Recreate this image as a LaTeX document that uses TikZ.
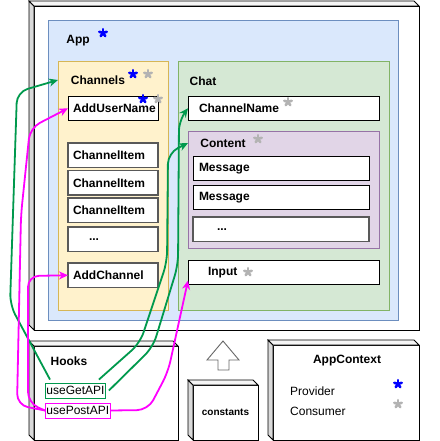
\documentclass[tikz,border=0pt]{standalone}
\usepackage{fontspec}
\setmainfont{Liberation Sans}
\usetikzlibrary{calc,arrows.meta}
\definecolor{appfill}{HTML}{DAE8FC}
\definecolor{appline}{HTML}{6C8EBF}
\definecolor{chanfill}{HTML}{FFF2CC}
\definecolor{chanline}{HTML}{D6B656}
\definecolor{chatfill}{HTML}{D5E8D4}
\definecolor{chatline}{HTML}{82B366}
\definecolor{contfill}{HTML}{E1D5E7}
\definecolor{contline}{HTML}{9673A6}
\definecolor{getgreen}{HTML}{00994D}
\definecolor{postpink}{HTML}{FF00FF}
\definecolor{provblue}{HTML}{0000FF}
\definecolor{consgray}{HTML}{B3B3B3}
\tikzset{
  frame/.style={draw, fill=white, anchor=north west, inner sep=0pt, outer sep=0pt, line width=0.8pt},
  area/.style={frame, line width=0.9pt},
  item/.style={frame, minimum height=24.5pt, align=left, inner xsep=5pt,
    font=\bfseries\fontsize{12}{14}\selectfont},
  listitem/.style={item, draw=black!65, line width=1.2pt},
  hook/.style={draw, anchor=west, inner sep=1pt, minimum height=15pt, line width=0.9pt,
    font=\fontsize{12}{14}\selectfont},
  lbl/.style={inner sep=0pt, font=\bfseries\fontsize{12}{14}\selectfont},
  txt/.style={inner sep=0pt, anchor=west, font=\fontsize{12}{14}\selectfont},
  ast/.pic={\foreach \a in {270,342,54,126,198}
    \draw[line width=2.6pt, line cap=round, pic actions] (0,0) -- (\a:3.9);},
  getline/.style={getgreen, line width=1.8pt, rounded corners=11pt, -{Stealth[length=9pt,width=8pt]}},
  postline/.style={postpink, line width=1.8pt, rounded corners=11pt, -{Stealth[length=9pt,width=8pt]}}
}
% left and top faces of a 3D box
\newcommand{\cubeside}[1]{%
  \filldraw[fill=black!15, line width=0.8pt] (#1.north west) -- ++(-5,-5)
    -- ($(#1.south west)+(-5,-5)$) -- (#1.south west) -- cycle;
  \filldraw[fill=black!4, line width=0.8pt] (#1.north west) -- ++(-5,-5)
    -- ($(#1.north east)+(-5,-5)$) -- (#1.north east) -- cycle;}
\begin{document}
\begin{tikzpicture}[x=1pt, y=-1pt]
\useasboundingbox (0,0) rectangle (439,441);
% 3D boxes
\node[frame, minimum width=385pt, minimum height=324pt] (frame) at (34,6) {};
\cubeside{frame}
\node[frame, minimum width=144pt, minimum height=94pt] (hooks) at (34,346) {};
\cubeside{hooks}
\node[frame, minimum width=65pt, minimum height=55pt,
  font=\bfseries\fontsize{10}{12}\selectfont] (constants) at (193,385) {constants};
\cubeside{constants}
\node[frame, minimum width=146pt, minimum height=95pt] (appcontext) at (273,345) {};
\cubeside{appcontext}
% up arrow
\draw[draw=black!60, fill=white, line width=0.9pt] (223,341) -- (239,360) -- (229,360)
  -- (229,370) -- (218,370) -- (218,360) -- (207,360) -- cycle;
% App
\node[area, fill=appfill, draw=appline, minimum width=350pt, minimum height=300pt] (app) at (48,20) {};
\node[lbl] (applbl) at (78,41) {App};
% Channels
\node[area, fill=chanfill, draw=chanline, minimum width=110pt, minimum height=249pt] (channels) at (58,61) {};
\node[lbl] (chanlbl) at (98,80) {Channels};
\node[item, text width=80pt] (addusername) at (68,96) {AddUserName};
\node[listitem, text width=80pt] (item1) at (68,143) {ChannelItem};
\node[listitem, text width=80pt] (item2) at (68,170.5) {ChannelItem};
\node[listitem, text width=80pt] (item3) at (68,198) {ChannelItem};
\node[listitem, text width=48pt, inner xsep=21pt] (dots1) at (68,227) {...};
\node[listitem, text width=80pt] (addchannel) at (68,263) {AddChannel};
% Chat
\node[area, fill=chatfill, draw=chatline, minimum width=211pt, minimum height=249pt] (chat) at (178,61) {};
\node[lbl] (chatlbl) at (203,81) {Chat};
\node[item, text width=169pt, inner xsep=11pt] (channelname) at (188,96) {ChannelName};
\node[area, fill=contfill, draw=contline, minimum width=191pt, minimum height=117pt] (content) at (188,131) {};
\node[lbl] (contlbl) at (223,143) {Content};
\node[item, text width=164pt, inner xsep=6pt] (msg1) at (193,156) {Message};
\node[item, text width=164pt, inner xsep=6pt] (msg2) at (193,185) {Message};
\node[listitem, text width=128pt, inner xsep=24pt] (dots2) at (193,217) {...};
\node[item, text width=151pt, inner xsep=20pt] (input) at (188,260) {Input};
% Hooks
\node[lbl] (hookslbl) at (69,361) {Hooks};
\node[hook, draw=getgreen] (getapi) at (45,390.5) {useGetAPI};
\node[hook, draw=postpink] (postapi) at (45,410.5) {usePostAPI};
% AppContext
\node[lbl] (ctxlbl) at (347,361) {AppContext};
\node[txt] (provlbl) at (290,391) {Provider};
\node[txt] (conslbl) at (290,411) {Consumer};
% Provider / consumer marks
\pic[draw=provblue] at (103,33) {ast};
\pic[draw=provblue] at (133,74) {ast};
\pic[draw=consgray] at (148,74) {ast};
\pic[draw=provblue] at (143,99) {ast};
\pic[draw=consgray] at (158,99) {ast};
\pic[draw=consgray] at (288,102) {ast};
\pic[draw=consgray] at (258,139) {ast};
\pic[draw=consgray] at (248,272) {ast};
\pic[draw=provblue] at (398,384) {ast};
\pic[draw=consgray] at (398,404) {ast};
% useGetAPI
\draw[getline] ($(getapi.north west)+(5,-3)$) -- (10,305) -- (17,92) -- (channels.west |- chanlbl);
\draw[getline] ($(getapi.north east)+(-7,-3)$) -- (140,343) -- (167,262) -- (168,153) -- (content.west |- contlbl);
\draw[getline] ($(getapi.east)+(3,0)$) -- (153,347) -- (178,265) -- (179,120) -- (channelname.west);
% usePostAPI
\draw[postline] (postapi.west) -- (17,405) -- (21,215) -- (30,128) -- (addusername.west);
\draw[postline] (postapi.west) -- (28,403) -- (28,276) -- (addchannel.west);
\draw[postline] (postapi.east) -- (148,410) -- (168,372) -- ($(input.south west)+(0,-4)$);
\end{tikzpicture}
\end{document}
